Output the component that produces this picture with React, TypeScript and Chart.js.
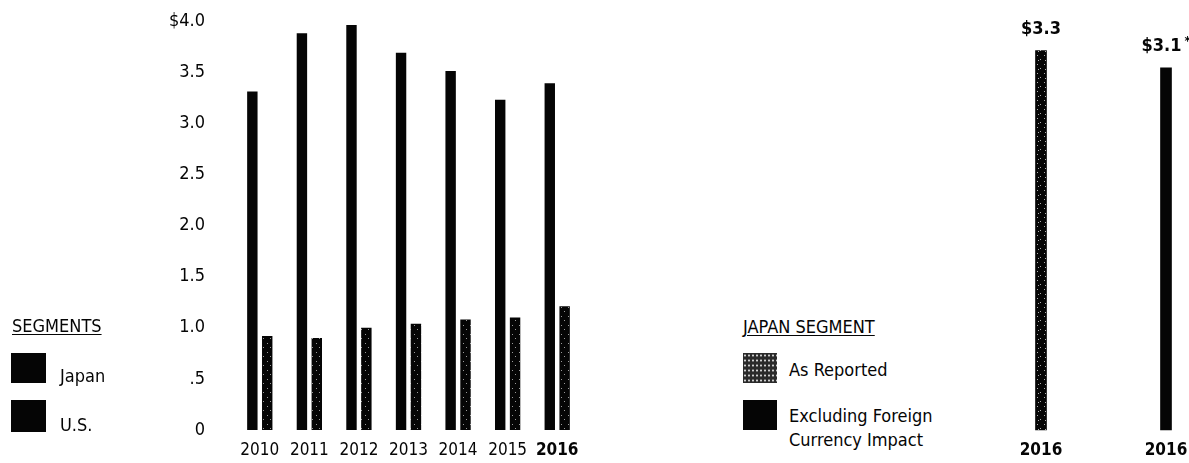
import React, { useEffect, useRef } from "react";
import { Chart, registerables } from "chart.js";

Chart.register(...registerables);

// ---- Data ----
const years = ["2010", "2011", "2012", "2013", "2014", "2015", "2016"];
const japanValues = [3.31, 3.88, 3.96, 3.69, 3.51, 3.23, 3.39];
const usValues = [0.92, 0.9, 1.0, 1.04, 1.08, 1.1, 1.21];
const yTickLabels = ["0", ".5", "1.0", "1.5", "2.0", "2.5", "3.0", "3.5", "$4.0"];
const boldYear = "2016";

const japan2016Categories = ["2016", "2016"];
const japan2016Values = [3.3, 3.15];
const japan2016Labels = ["$3.3", "$3.1"];
const japan2016Notes = ["", "*"];

// ---- Styles ----
const FONT = "'DejaVu Sans Condensed', 'Liberation Sans', Arial, sans-serif";
const INK = "#050505";

function makeSpeckle(density: number, speck: string): CanvasPattern | string {
  const c = document.createElement("canvas");
  c.width = 7;
  c.height = 9;
  const g = c.getContext("2d");
  if (!g) return INK;
  g.fillStyle = INK;
  g.fillRect(0, 0, 7, 9);
  g.fillStyle = speck;
  const pts = [
    [1, 1], [4, 5], [2, 6], [5, 7], [0, 4], [3, 0], [6, 5], [1, 8],
  ];
  pts.slice(0, density).forEach(([x, y]) => g.fillRect(x, y, 1, 1));
  const p = g.createPattern(c, "repeat");
  return p || INK;
}

function LeftChart() {
  const ref = useRef<HTMLCanvasElement | null>(null);
  useEffect(() => {
    if (!ref.current) return;
    const speckle = makeSpeckle(2, "#9a9a9a");
    const chart = new Chart(ref.current, {
      type: "bar",
      data: {
        labels: years,
        datasets: [
          {
            label: "Japan",
            data: japanValues,
            backgroundColor: INK,
            borderWidth: 0,
            categoryPercentage: 0.6,
            barPercentage: 0.7,
          },
          {
            label: "U.S.",
            data: usValues,
            backgroundColor: speckle as any,
            borderWidth: 0,
            categoryPercentage: 0.6,
            barPercentage: 0.7,
          },
        ],
      },
      options: {
        responsive: false,
        animation: false,
        layout: { padding: { top: 21, right: 18, bottom: 0, left: 0 } },
        plugins: { legend: { display: false }, tooltip: { enabled: false } },
        scales: {
          x: {
            grid: { display: false, drawTicks: false },
            border: { display: false },
            ticks: {
              padding: 10,
              color: INK,
              maxRotation: 0,
              minRotation: 0,
              autoSkip: false,
              font: (ctx: any) => ({
                family: FONT,
                size: 17,
                weight: years[ctx.index] === boldYear ? "bold" : "normal",
              }),
            },
            afterFit: (scale: any) => {
              scale.height = 33;
              scale.paddingLeft = 0;
              scale.paddingRight = 0;
            },
          },
          y: {
            min: 0,
            max: 4,
            grid: { display: false, drawTicks: false },
            border: { display: false },
            ticks: {
              stepSize: 0.5,
              padding: 30,
              color: INK,
              font: { family: FONT, size: 18 },
              callback: (_v: any, i: number) => yTickLabels[i],
            },
            afterFit: (scale: any) => {
              scale.width = 235;
              scale.paddingTop = 0;
              scale.paddingBottom = 0;
            },
          },
        },
      },
    });
    return () => chart.destroy();
  }, []);
  return (
    <canvas
      ref={ref}
      width={600}
      height={463}
      style={{ position: "absolute", left: 0, top: 0, width: 600, height: 463, display: "block" }}
    />
  );
}

function RightChart() {
  const ref = useRef<HTMLCanvasElement | null>(null);
  useEffect(() => {
    if (!ref.current) return;
    const speckle = makeSpeckle(3, "#b0b0b0");
    const labelPlugin = {
      id: "barTopLabels",
      afterDatasetsDraw(chart: any) {
        const ctx = chart.ctx;
        const meta = chart.getDatasetMeta(0);
        ctx.save();
        ctx.fillStyle = INK;
        ctx.textBaseline = "alphabetic";
        meta.data.forEach((bar: any, i: number) => {
          const main = japan2016Labels[i];
          const note = japan2016Notes[i];
          ctx.font = `bold 18px ${FONT}`;
          const wMain = ctx.measureText(main).width;
          ctx.font = `bold 13px ${FONT}`;
          const wNote = note ? ctx.measureText(note).width + 3 : 0;
          const total = wMain + wNote;
          const x0 = bar.x - total / 2;
          const baseline = bar.y - 17;
          ctx.font = `bold 18px ${FONT}`;
          ctx.textAlign = "left";
          ctx.fillText(main, x0, baseline);
          if (note) {
            ctx.font = `bold 13px ${FONT}`;
            ctx.fillText(note, x0 + wMain + 3, baseline - 6);
          }
        });
        ctx.restore();
      },
    };
    const chart = new Chart(ref.current, {
      type: "bar",
      data: {
        labels: japan2016Categories,
        datasets: [
          {
            label: "Japan Segment",
            data: japan2016Values,
            backgroundColor: [speckle as any, INK],
            borderWidth: 0,
            barThickness: 11,
            clip: false as any,
          },
        ],
      },
      options: {
        responsive: false,
        animation: false,
        layout: { padding: { top: 16, right: 23, bottom: 0, left: 61 } },
        plugins: { legend: { display: false }, tooltip: { enabled: false } },
        scales: {
          x: {
            offset: false,
            grid: { display: false, drawTicks: false },
            border: { display: false },
            ticks: {
              padding: 10,
              color: INK,
              maxRotation: 0,
              minRotation: 0,
              font: { family: FONT, size: 17, weight: "bold" },
            },
            afterFit: (scale: any) => {
              scale.height = 33;
              scale.paddingLeft = 0;
              scale.paddingRight = 0;
            },
          },
          y: { display: false, min: 0, max: 3.6 },
        },
      },
      plugins: [labelPlugin],
    });
    return () => chart.destroy();
  }, []);
  return (
    <canvas
      ref={ref}
      width={209}
      height={463}
      style={{ position: "absolute", left: 980, top: 0, width: 209, height: 463, display: "block" }}
    />
  );
}

const textBase: React.CSSProperties = {
  position: "absolute",
  fontFamily: FONT,
  fontSize: 18,
  lineHeight: "20px",
  color: INK,
  whiteSpace: "nowrap",
};

const speckleBg: React.CSSProperties = {
  backgroundColor: "#2a2a2a",
  backgroundImage: "radial-gradient(#cfcfcf 0.7px, transparent 1.1px)",
  backgroundSize: "4px 5px",
};

export default function App() {
  return (
    <div
      style={{
        position: "absolute",
        left: 0,
        top: 0,
        width: 1189,
        height: 463,
        background: "#fff",
        overflow: "hidden",
      }}
    >
      <LeftChart />
      <RightChart />

      {/* Left legend */}
      <div style={{ ...textBase, left: 12, top: 316, textDecoration: "underline", textUnderlineOffset: 2 }}>
        SEGMENTS
      </div>
      <div style={{ position: "absolute", left: 11, top: 353, width: 35, height: 30, background: INK }} />
      <div style={{ ...textBase, left: 60, top: 366 }}>Japan</div>
      <div style={{ position: "absolute", left: 11, top: 400, width: 35, height: 32, background: INK }} />
      <div style={{ ...textBase, left: 60, top: 415 }}>U.S.</div>

      {/* Right legend */}
      <div style={{ ...textBase, left: 743, top: 317, textDecoration: "underline", textUnderlineOffset: 2 }}>
        JAPAN SEGMENT
      </div>
      <div style={{ position: "absolute", left: 743, top: 353, width: 34, height: 30, ...speckleBg }} />
      <div style={{ ...textBase, left: 789, top: 360 }}>As Reported</div>
      <div style={{ position: "absolute", left: 743, top: 400, width: 34, height: 30, background: INK }} />
      <div style={{ ...textBase, left: 789, top: 404, lineHeight: "24px" }}>
        Excluding Foreign
        <br />
        Currency Impact
      </div>
    </div>
  );
}
